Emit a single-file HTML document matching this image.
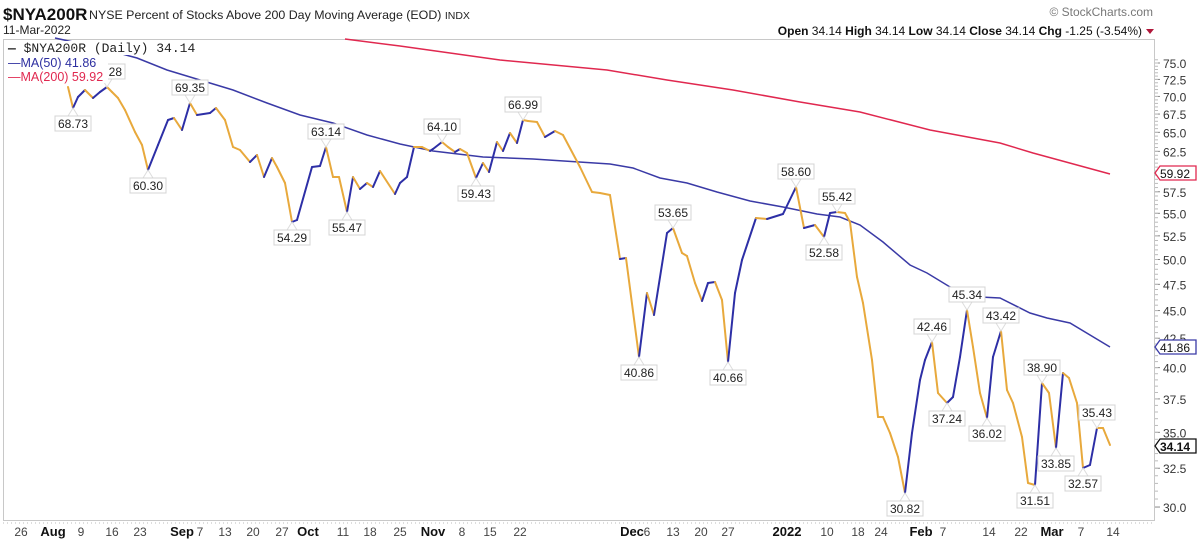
<!DOCTYPE html>
<html><head><meta charset="utf-8"><style>
body{margin:0;background:#fff;width:1204px;height:540px;overflow:hidden;font-family:"Liberation Sans",Arial,sans-serif}
svg{display:block}
</style></head><body>
<svg id="s" width="1204" height="540" xmlns="http://www.w3.org/2000/svg" font-family="Liberation Sans, Arial, sans-serif">
<text x="3" y="20" font-size="17" font-weight="bold" fill="#111">$NYA200R</text>
<text x="89" y="19" font-size="12.4" fill="#222">NYSE Percent of Stocks Above 200 Day Moving Average (EOD)  <tspan font-size="10.5">INDX</tspan></text>
<text x="3" y="34" font-size="12" fill="#222">11-Mar-2022</text>
<text x="1153" y="16" font-size="12" fill="#777" text-anchor="end">© StockCharts.com</text>
<text x="1142" y="35" font-size="12" fill="#111" text-anchor="end"><tspan font-weight="bold">Open</tspan> 34.14 <tspan font-weight="bold">High</tspan> 34.14 <tspan font-weight="bold">Low</tspan> 34.14 <tspan font-weight="bold">Close</tspan> 34.14 <tspan font-weight="bold">Chg</tspan> -1.25 (-3.54%)</text>
<polygon points="1146,29 1154,29 1150,34" fill="#b0173a"/>
<rect x="3.5" y="39.5" width="1151" height="481" fill="none" stroke="#c8c8c8"/>
<g id="g"></g>
<g id="leg">
<rect x="4" y="41" width="104" height="42" fill="#fff"/>
<rect x="104" y="41" width="96" height="14" fill="#fff"/>
<text x="8" y="52" font-size="13" fill="#222" font-family="Liberation Mono, monospace"><tspan font-weight="bold">—</tspan> $NYA200R (Daily) 34.14</text>
<text x="8" y="67" font-size="12.5" fill="#2d2fa0"><tspan>—</tspan>MA(50) 41.86</text>
<text x="8" y="81" font-size="12.5" fill="#e0284f"><tspan>—</tspan>MA(200) 59.92</text>
</g>
</svg>
<script>
var NS="http://www.w3.org/2000/svg",g=document.getElementById('g');
function el(t,a,txt){var e=document.createElementNS(NS,t);for(var k in a)e.setAttribute(k,a[k]);if(txt!=null)e.textContent=txt;g.appendChild(e);return e;}
function Y(v){return 63+484.6*Math.log(75/v);}
for(var v=30;v<=75.01;v+=2.5){var y=Y(v);el('line',{x1:1155,x2:1160,y1:y,y2:y,stroke:'#888'});el('text',{x:1163,y:y+5,'font-size':12,fill:'#333'},v.toFixed(1));}
for(var v=30.5;v<76;v+=0.5){var y=Y(v);if(y>40)el('line',{x1:1155,x2:1158,y1:y,y2:y,stroke:'#bbb'});}
el('line',{x1:3,x2:1155,y1:523,y2:523,stroke:'#bbb','stroke-dasharray':'1,3'});
var xl=[[21,'26'],[53,'Aug',1],[81,'9'],[112,'16'],[140,'23'],[182,'Sep',1],[200,'7'],[225,'13'],[253,'20'],[282,'27'],[308,'Oct',1],[343,'11'],[370,'18'],[400,'25'],[433,'Nov',1],[462,'8'],[490,'15'],[520,'22'],[632,'Dec',1],[647,'6'],[673,'13'],[701,'20'],[728,'27'],[787,'2022',1],[827,'10'],[858,'18'],[881,'24'],[921,'Feb',1],[943,'7'],[989,'14'],[1021,'22'],[1052,'Mar',1],[1081,'7'],[1113,'14']];
xl.forEach(function(a){el('text',{x:a[0],y:536,'font-size':a[2]?13:12,'font-weight':a[2]?'bold':'normal',fill:a[2]?'#111':'#444','text-anchor':'middle'},a[1]);});
el('polyline',{points:'345,39 400,46 500,60 607,70 667,80 733,90 800,102 860,112 930,130 1000,143 1033,153 1110,174',fill:'none',stroke:'#e0284f','stroke-width':1.5});
el('polyline',{points:'55,38 100,48 137,58 167,70 200,80 233,90 267,103 300,115 333,123 367,135 400,144 433,151 483,157 533,159 610,164 633,168 660,178 687,183 717,192 750,201 783,207 817,214 840,217 860,225 883,242 910,265 927,273 950,287 980,297 1000,298 1030,313 1047,318 1070,323 1110,347',fill:'none',stroke:'#3a3aa6','stroke-width':1.5});
var P=[[68,87],[73,108],[78,97],[85,90],[93,98],[100,92],[107,87],[112,92],[118,98],[125,110],[135,132],[142,145],[148,170],[158,145],[168,120],[174,118],[182,130],[190,103],[197,115],[210,113],[216,108],[225,120],[233,147],[240,150],[250,162],[257,155],[264,177],[272,158],[277,167],[285,183],[292,222],[297,220],[312,167],[320,166],[326,147],[333,177],[339,177],[347,212],[353,177],[360,189],[367,183],[373,187],[380,171],[395,194],[400,183],[407,177],[414,147],[422,147],[430,151],[433,149],[442,142],[448,147],[455,152],[460,149],[467,153],[476,178],[483,163],[489,172],[497,142],[503,151],[510,133],[517,143],[523,120],[528,121],[537,122],[545,137],[555,131],[563,135],[580,167],[592,192],[600,193],[610,195],[620,259],[626,258],[639,357],[647,293],[654,315],[667,233],[673,228],[682,253],[687,256],[695,283],[702,301],[708,283],[715,282],[722,300],[728,362],[735,293],[742,260],[756,218],[767,219],[783,214],[796,187],[804,228],[815,225],[824,237],[830,213],[837,212],[845,213],[850,222],[857,277],[863,303],[872,360],[878,417],[883,417],[890,433],[898,457],[905,493],[912,433],[920,380],[925,360],[932,342],[938,393],[947,403],[953,397],[960,357],[967,310],[973,347],[980,393],[987,418],[993,357],[1001,331],[1007,390],[1013,403],[1022,437],[1028,483],[1035,485],[1042,383],[1049,393],[1056,448],[1063,373],[1069,378],[1077,403],[1083,468],[1090,465],[1097,428],[1103,428],[1110,445]];
for(var i=1;i<P.length;i++){el('line',{x1:P[i-1][0],y1:P[i-1][1],x2:P[i][0],y2:P[i][1],stroke:P[i][1]<P[i-1][1]?'#2d2fa6':'#e8a93c','stroke-width':2,'stroke-linecap':'round'});}
var L=[[73,108,'68.73',0],[148,170,'60.30',0],[190,103,'69.35',1],[292,222,'54.29',0],[326,147,'63.14',1],[347,212,'55.47',0],[442,142,'64.10',1],[476,178,'59.43',0],[523,120,'66.99',1],[639,357,'40.86',0],[673,228,'53.65',1],[728,362,'40.66',0],[796,187,'58.60',1],[837,212,'55.42',1],[824,237,'52.58',0],[905,493,'30.82',0],[932,342,'42.46',1],[947,403,'37.24',0],[967,310,'45.34',1],[987,418,'36.02',0],[1001,331,'43.42',1],[1035,485,'31.51',0],[1042,383,'38.90',1],[1056,448,'33.85',0],[1083,468,'32.57',0],[1097,428,'35.43',1],[107,87,'72.28',1]];
L.forEach(function(a){var x=a[0],y=a[1],up=a[3],by=up?y-23:y+8;
el('polygon',{points:up?(x-5)+','+(by+15)+' '+x+','+(y)+' '+(x+5)+','+(by+15):(x-5)+','+by+' '+x+','+y+' '+(x+5)+','+by,fill:'#fff',stroke:'#ddd'});
el('rect',{x:x-18,y:by,width:36,height:15,fill:'#fff',stroke:'#d4d4d4'});
el('text',{x:x,y:by+12,'font-size':12,fill:'#222','text-anchor':'middle'},a[2]);});
function vb(y,t,c,b){el('polygon',{points:'1155,'+y+' 1160,'+(y-7)+' 1196,'+(y-7)+' 1196,'+(y+7)+' 1160,'+(y+7),fill:'#fff',stroke:c,'stroke-width':1.3});el('text',{x:1160,y:y+5,'font-size':12,'font-weight':b?'bold':'normal',fill:'#111'},t);}
vb(173,'59.92','#e0284f');vb(347,'41.86','#3a3aa6');vb(446,'34.14','#111',1);
</script>
</body></html>
